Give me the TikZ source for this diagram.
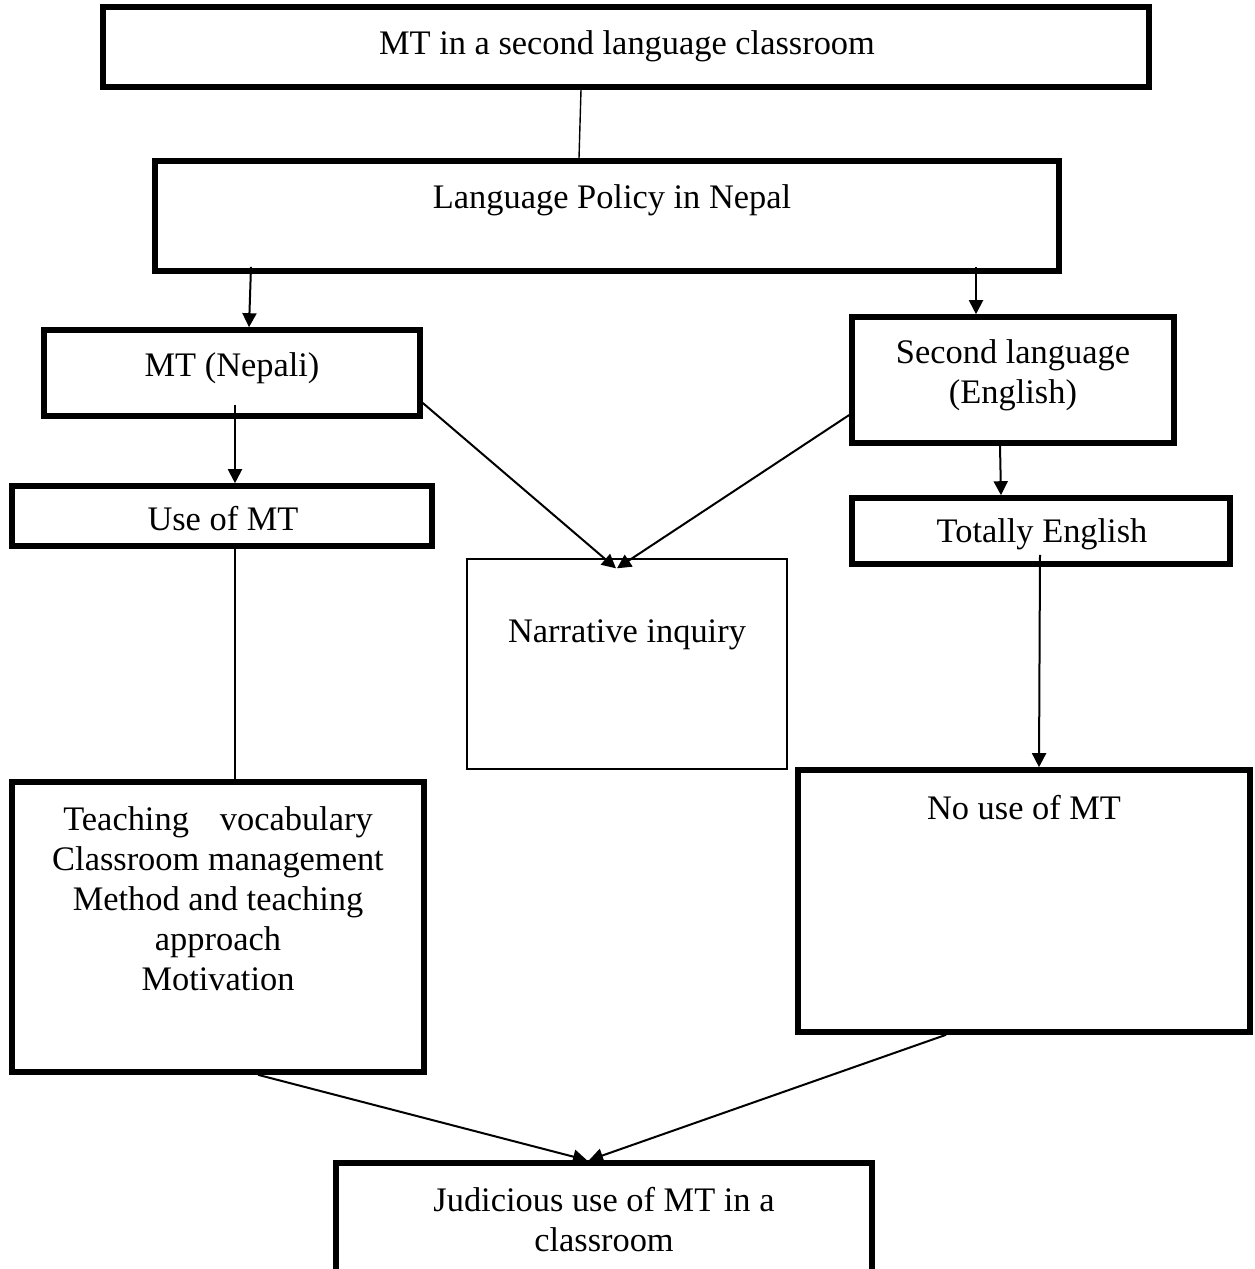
\documentclass[tikz,border=0pt]{standalone}
\usepackage{fontspec}
\setmainfont{Liberation Serif}
\usepackage{tikz}
\usetikzlibrary{arrows.meta,positioning}
\tikzstyle{mtbox}=[draw,line width=2.8pt,inner sep=0pt]
\tikzstyle{thinbox}=[draw,line width=0.7pt,inner sep=0pt]
\tikzstyle{txt}=[align=center,inner sep=0pt]
\tikzstyle{link}=[line width=1pt]
\tikzstyle{arrow}=[line width=1pt,-{Triangle[length=7pt,width=7pt]}]

\begin{document}
\begin{tikzpicture}[x=0.5pt,y=-0.5pt,font=\fontsize{17.2}{20}\selectfont]
\useasboundingbox (0,0) rectangle (1254,1269);
\clip (0,0) rectangle (1254,1269);
% boxes
\node [mtbox, minimum width=523pt, minimum height=40pt] (title) at (626,47) {};
\node [txt] (titletxt) at (627,46) {MT in a second language classroom};
\node [mtbox, minimum width=452pt, minimum height=55pt] (policy) at (607,216) {};
\node [txt] (policytxt) at (612,200) {Language Policy in Nepal};
\node [mtbox, minimum width=188pt, minimum height=43pt] (mtnep) at (232,373) {};
\node [txt] (mtneptxt) at (232,368) {MT (Nepali)};
\node [mtbox, minimum width=161pt, minimum height=63pt] (second) at (1013,380) {};
\node [txt] (secondtxt) at (1013,375) {Second language\\(English)};
\node [mtbox, minimum width=210pt, minimum height=30pt] (useof) at (222,516) {};
\node [txt] (useoftxt) at (223,519) {Use of MT};
\node [mtbox, minimum width=189pt, minimum height=33pt] (totally) at (1041,531) {};
\node [txt] (totallytxt) at (1042,534) {Totally English};
\node [thinbox, minimum width=160pt, minimum height=105pt] (narr) at (627,664) {};
\node [txt] (narrtxt) at (627,635) {Narrative inquiry};
\node [mtbox, minimum width=206pt, minimum height=145pt] (teach) at (218,927) {};
\node [txt] (teachtxt) at (218,899) {Teaching\hspace{0.9em}vocabulary\\Classroom management\\Method and teaching\\approach\\Motivation};
\node [mtbox, minimum width=226pt, minimum height=131pt] (nouse) at (1024,901) {};
\node [txt] (nousetxt) at (1024,808) {No use of MT};
\node [mtbox, minimum width=268pt, minimum height=70pt] (judic) at (604,1233) {};
\node [txt] (judictxt) at (604,1220) {Judicious use of MT in a\\classroom};
% connectors
\draw [line width=0.7pt] ([shift={(-45,0)}]title.south) -- ([shift={(-28,0)}]policy.north);
\draw [arrow] ([shift={(19,-7)}]mtnep.north |- policy.south) -- ([shift={(17,0)}]mtnep.north);
\draw [arrow] ([shift={(-37,-7)}]second.north |- policy.south) -- ([shift={(-37,0)}]second.north);
\draw [arrow] ([shift={(3,-14)}]mtnep.south) -- ([shift={(13,0)}]useof.north);
\draw [arrow] ([shift={(0,30)}]mtnep.east) -- ([shift={(-11,10)}]narr.north);
\draw [arrow] ([shift={(0,35)}]second.west) -- ([shift={(-10,10)}]narr.north);
\draw [arrow] ([shift={(-13,0)}]second.south) -- ([shift={(-40,0)}]totally.north);
\draw [link] ([shift={(13,0)}]useof.south) -- ([shift={(17,0)}]teach.north);
\draw [arrow] ([shift={(-1,-12)}]totally.south) -- ([shift={(15,0)}]nouse.north);
\draw [arrow] ([shift={(40,0)}]teach.south) -- ([shift={(-17,0)}]judic.north);
\draw [arrow] ([shift={(-78,0)}]nouse.south) -- ([shift={(-15,0)}]judic.north);
\end{tikzpicture}
\end{document}
